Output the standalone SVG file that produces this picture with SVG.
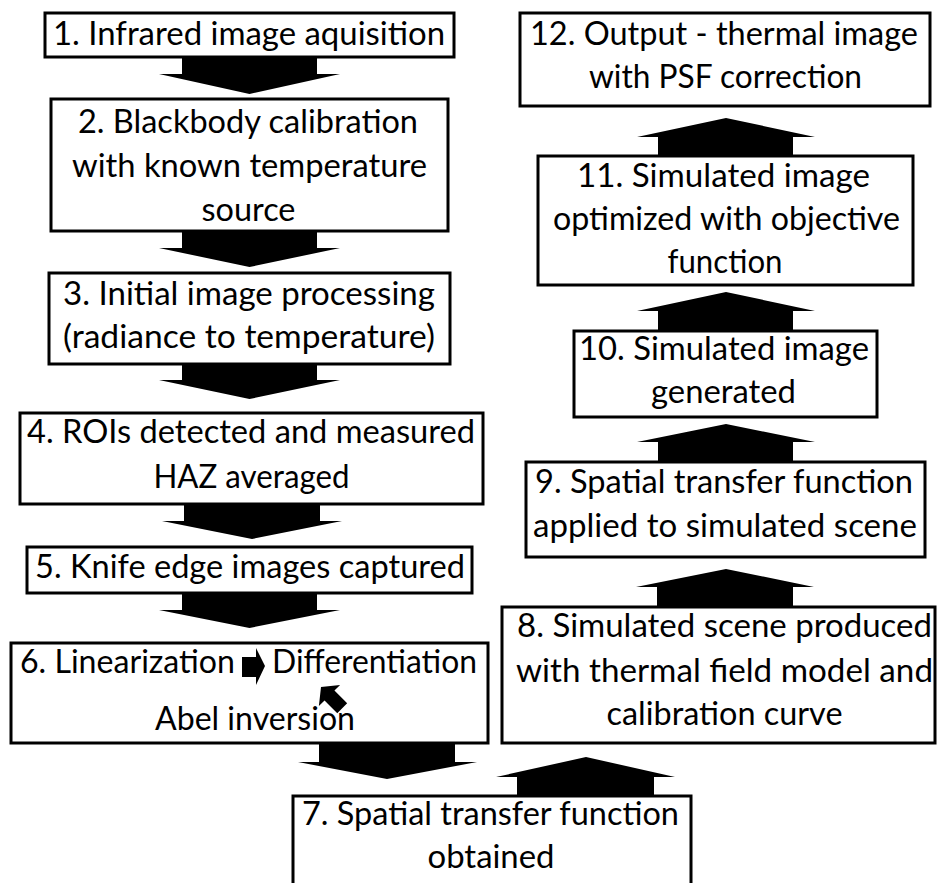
<svg xmlns="http://www.w3.org/2000/svg" width="939" height="883" viewBox="0 0 939 883">
<style>
.box{fill:#fff;stroke:#000;stroke-width:3}
.t{font-family:Lato,"Liberation Sans",sans-serif;font-size:32.5px;fill:#000;text-anchor:middle}
.arr{fill:#000;stroke:none}
</style>
<rect width="939" height="883" fill="#fff"/>
<g id="n1"><rect class="box" x="45" y="13" width="409" height="44"/>
<text class="t" x="249" y="45" textLength="392" lengthAdjust="spacingAndGlyphs">1. Infrared image aquisition</text></g>
<g id="n2"><rect class="box" x="51" y="99" width="397" height="132"/>
<text class="t" x="248" y="133" textLength="340" lengthAdjust="spacingAndGlyphs">2. Blackbody calibration</text>
<text class="t" x="249.5" y="177" textLength="355" lengthAdjust="spacingAndGlyphs">with known temperature</text>
<text class="t" x="248.5" y="221" textLength="94" lengthAdjust="spacingAndGlyphs">source</text></g>
<g id="n3"><rect class="box" x="49" y="273" width="401" height="91"/>
<text class="t" x="249" y="305" textLength="372" lengthAdjust="spacingAndGlyphs">3. Initial image processing</text>
<text class="t" x="249" y="348" textLength="372" lengthAdjust="spacingAndGlyphs">(radiance to temperature)</text></g>
<g id="n4"><rect class="box" x="20" y="413" width="463" height="91"/>
<text class="t" x="251" y="443" textLength="448" lengthAdjust="spacingAndGlyphs">4. ROIs detected and measured</text>
<text class="t" x="251.5" y="488" textLength="196" lengthAdjust="spacingAndGlyphs">HAZ averaged</text></g>
<g id="n5"><rect class="box" x="27" y="547" width="445" height="46"/>
<text class="t" x="250" y="578" textLength="430" lengthAdjust="spacingAndGlyphs">5. Knife edge images captured</text></g>
<g id="n6"><rect class="box" x="11" y="643" width="477" height="100"/>
<text class="t" x="127.5" y="673" textLength="215" lengthAdjust="spacingAndGlyphs">6. Linearization</text>
<text class="t" x="374.5" y="673" textLength="205" lengthAdjust="spacingAndGlyphs">Differentiation</text>
<text class="t" x="255" y="730" textLength="200" lengthAdjust="spacingAndGlyphs">Abel inversion</text>
<polygon class="arr" points="242,657 256,657 256,648 265,666 256,685 256,677 242,677"/>
<polygon class="arr" transform="translate(321,687) rotate(225)" points="-30,-7 -12,-7 -12,-15 0,0 -12,15 -12,7 -30,7"/></g>
<g id="n7"><rect class="box" x="293" y="796" width="398" height="120"/>
<text class="t" x="490.5" y="825" textLength="377" lengthAdjust="spacingAndGlyphs">7. Spatial transfer function</text>
<text class="t" x="491" y="868" textLength="127" lengthAdjust="spacingAndGlyphs">obtained</text></g>
<g id="n8"><rect class="box" x="502" y="607" width="433" height="136"/>
<text class="t" x="724.5" y="637" textLength="415" lengthAdjust="spacingAndGlyphs">8. Simulated scene produced</text>
<text class="t" x="724.5" y="682" textLength="417" lengthAdjust="spacingAndGlyphs">with thermal field model and</text>
<text class="t" x="724.5" y="725" textLength="236" lengthAdjust="spacingAndGlyphs">calibration curve</text></g>
<g id="n9"><rect class="box" x="526" y="462" width="399" height="95"/>
<text class="t" x="724" y="493" textLength="378" lengthAdjust="spacingAndGlyphs">9. Spatial transfer function</text>
<text class="t" x="725" y="537" textLength="384" lengthAdjust="spacingAndGlyphs">applied to simulated scene</text></g>
<g id="n10"><rect class="box" x="574" y="331" width="303" height="86"/>
<text class="t" x="724" y="360" textLength="290" lengthAdjust="spacingAndGlyphs">10. Simulated image</text>
<text class="t" x="723.5" y="403" textLength="145" lengthAdjust="spacingAndGlyphs">generated</text></g>
<g id="n11"><rect class="box" x="538" y="156" width="375" height="129"/>
<text class="t" x="723.5" y="187" textLength="293" lengthAdjust="spacingAndGlyphs">11. Simulated image</text>
<text class="t" x="726.5" y="230" textLength="347" lengthAdjust="spacingAndGlyphs">optimized with objective</text>
<text class="t" x="725" y="273" textLength="115" lengthAdjust="spacingAndGlyphs">function</text></g>
<g id="n12"><rect class="box" x="520" y="13" width="410" height="93"/>
<text class="t" x="724" y="45" textLength="388" lengthAdjust="spacingAndGlyphs">12. Output - thermal image</text>
<text class="t" x="725.5" y="88" textLength="273" lengthAdjust="spacingAndGlyphs">with PSF correction</text></g>
<g id="connectors">
<polygon class="arr" points="182,57 317,57 317,74 340,74 249.5,94 159,74 182,74"/>
<polygon class="arr" points="182,231 317,231 317,248 340,248 249.5,267 159,248 182,248"/>
<polygon class="arr" points="182,364 317,364 317,380 340,380 249.5,399 159,380 182,380"/>
<polygon class="arr" points="184,504 320,504 320,521 342,521 252,539 162,521 184,521"/>
<polygon class="arr" points="182,593 317,593 317,610 340,610 249.5,628 159,610 182,610"/>
<polygon class="arr" points="319,743 455,743 455,762 477,762 387,779 298,762 319,762"/>
<polygon class="arr" points="517,796 654,796 654,777 675,777 586,757 496,777 517,777"/>
<polygon class="arr" points="657,607 793,607 793,587 814,587 726,569 636,587 657,587"/>
<polygon class="arr" points="658,462 793,462 793,442 815,442 726,424 637,442 658,442"/>
<polygon class="arr" points="658,331 793,331 793,311 815,311 726,292 637,311 658,311"/>
<polygon class="arr" points="658,156 793,156 793,137 815,137 726,118 637,137 658,137"/>
</g>
</svg>
